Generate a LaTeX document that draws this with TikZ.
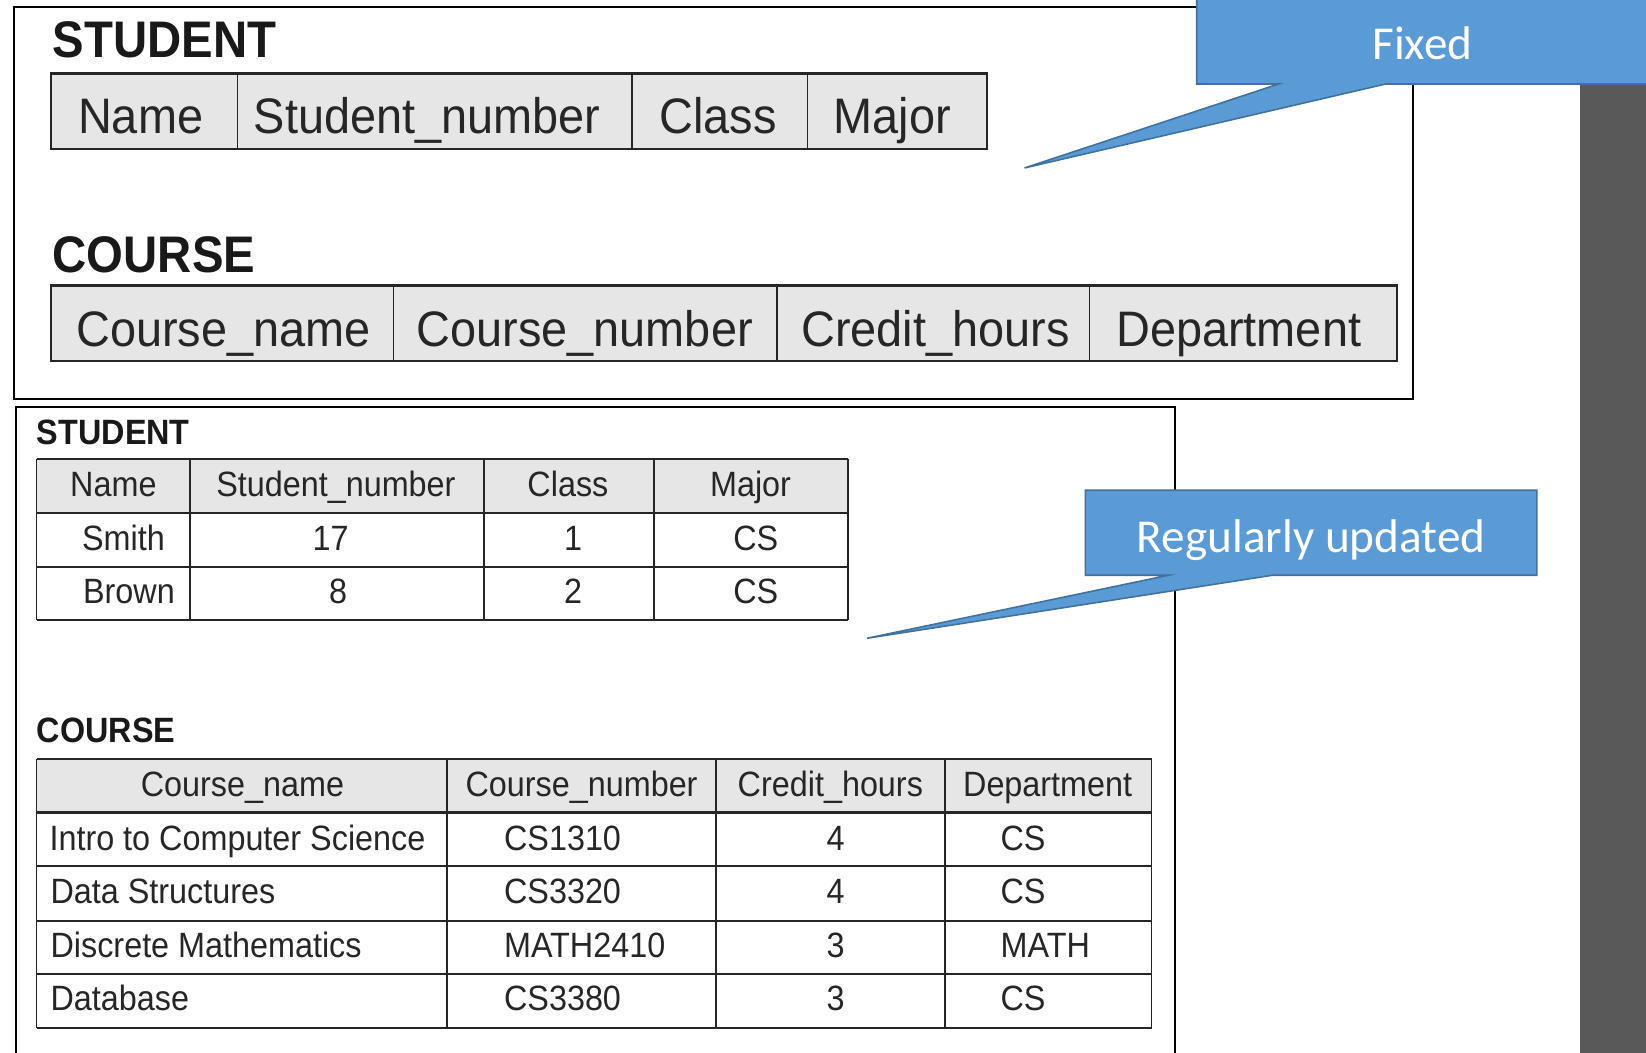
\documentclass[tikz,border=0pt]{standalone}
\usepackage{fontspec}
\setmainfont{Liberation Sans}
\newfontfamily\tabfont[FakeStretch=0.92]{Liberation Sans}
\newfontfamily\bigfont[FakeStretch=0.94]{Liberation Sans}
\newfontfamily\ttlfont[FakeStretch=0.92]{Liberation Sans}
\newfontfamily\callfont{Carlito}
\definecolor{hdr}{HTML}{E6E6E6}
\definecolor{cfill}{HTML}{5B9BD5}
\definecolor{cline}{HTML}{41719C}
\definecolor{sidebar}{HTML}{595959}
\definecolor{tline}{HTML}{262626}
\begin{document}
\begin{tikzpicture}[x=1pt,y=-1pt,
  bigtxt/.style={anchor=base,inner sep=0pt,font=\bigfont\fontsize{47.5}{48}\selectfont,text=black!85},
  smtxt/.style={anchor=base,inner sep=0pt,font=\tabfont\fontsize{33.5}{34}\selectfont,text=black!85},
  smleft/.style={smtxt,anchor=base west},
  bigttl/.style={anchor=base west,inner sep=0pt,font=\ttlfont\bfseries\fontsize{49}{49}\selectfont,text=black!90},
  smttl/.style={anchor=base west,inner sep=0pt,font=\ttlfont\bfseries\fontsize{33.5}{34}\selectfont,text=black!90},
  calltxt/.style={anchor=base,inner sep=0pt,font=\callfont\fontsize{45}{45}\selectfont,text=white},
  callout/.style={fill=cfill,draw=cline,line width=1.5pt,line join=miter},
  frame/.style={draw=black,line width=2pt},
  hline/.style={draw=tline,line width=2pt},
  vline/.style={draw=tline,line width=1.4pt},
  hdrcell/.style={fill=hdr}]
\useasboundingbox (0,0) rectangle (1568,1003);
\clip (0,0) rectangle (1568,1003);
\fill[white] (0,0) rectangle (1568,1003);
% side bar
\fill[sidebar] (1505,0) rectangle (1568,1003);

% ===== upper block =====
\draw[frame] (13,7) rectangle (1346,380);
\node[bigttl] (t1) at (50,55) {STUDENT};
\fill[hdrcell] (49,70) rectangle (940,142);
\draw[hline] (49,70) rectangle (940,142);
\foreach \x in {226,602,769} \draw[vline] (\x,70) -- (\x,142);
\node[bigtxt] (s1) at (134,127) {Name};
\node[bigtxt] (s2) at (407,127) {Student\_number};
\node[bigtxt] (s3) at (684,127) {Class};
\node[bigtxt] (s4) at (850,127) {Major};

\node[bigttl] (t2) at (50,260) {COURSE};
\fill[hdrcell] (49,272) rectangle (1331,344);
\draw[hline] (49,272) rectangle (1331,344);
\foreach \x in {375,740,1038} \draw[vline] (\x,272) -- (\x,344);
\node[bigtxt] (c1) at (213,330) {Course\_name};
\node[bigtxt] (c2) at (557,330) {Course\_number};
\node[bigtxt] (c3) at (891,330) {Credit\_hours};
\node[bigtxt] (c4) at (1180,330) {Department};

% ===== lower block =====
\draw[frame] (15,1010) -- (15,388) -- (1119,388) -- (1119,1010);
\node[smttl] (t3) at (35,423) {STUDENT};
\fill[hdrcell] (35,437) rectangle (808,489);
\foreach \y in {437,489,540,591} \draw[hline] (35,\y) -- (808,\y);
\foreach \x in {35,181,461,623,808} \draw[vline] (\x,437) -- (\x,591);
\node[smtxt] (h1) at (108,473) {Name};
\node[smtxt] (h2) at (320,473) {Student\_number};
\node[smtxt] (h3) at (541,473) {Class};
\node[smtxt] (h4) at (715,473) {Major};
\node[smleft] (r11) at (78,524) {Smith};
\node[smtxt] (r12) at (315,524) {17};
\node[smtxt] (r13) at (546,524) {1};
\node[smtxt] (r14) at (720,524) {CS};
\node[smleft] (r21) at (79,575) {Brown};
\node[smtxt] (r22) at (322,575) {8};
\node[smtxt] (r23) at (546,575) {2};
\node[smtxt] (r24) at (720,575) {CS};

\node[smttl] (t4) at (35,707) {COURSE};
\fill[hdrcell] (35,723) rectangle (1097,774);
\foreach \y in {723,774,825,877,928,979} \draw[hline] (35,\y) -- (1097,\y);
\foreach \x in {35,426,682,900,1097} \draw[vline] (\x,723) -- (\x,979);
\node[smtxt] (k1) at (231,759) {Course\_name};
\node[smtxt] (k2) at (554,759) {Course\_number};
\node[smtxt] (k3) at (791,759) {Credit\_hours};
\node[smtxt] (k4) at (998,759) {Department};
\node[smleft] (a1) at (47,810) {Intro to Computer Science};
\node[smleft] (a2) at (480,810) {CS1310};
\node[smtxt]  (a3) at (796,810) {4};
\node[smleft] (a4) at (953,810) {CS};
\node[smleft] (b1) at (48,861) {Data Structures};
\node[smleft] (b2) at (480,861) {CS3320};
\node[smtxt]  (b3) at (796,861) {4};
\node[smleft] (b4) at (953,861) {CS};
\node[smleft] (d1) at (48,912) {Discrete Mathematics};
\node[smleft] (d2) at (480,912) {MATH2410};
\node[smtxt]  (d3) at (796,912) {3};
\node[smleft] (d4) at (953,912) {MATH};
\node[smleft] (e1) at (48,963) {Database};
\node[smleft] (e2) at (480,963) {CS3380};
\node[smtxt]  (e3) at (796,963) {3};
\node[smleft] (e4) at (953,963) {CS};

% ===== callouts =====
\coordinate (fixtip) at (976,160);
\draw[callout] (1140,-5) -- (1140,80) -- (1218,80) -- (fixtip) -- (1320,80) -- (1580,80) -- (1580,-5) -- cycle;
\node[calltxt] (fixed) at (1355,57) {Fixed};

\coordinate (regtip) at (826,608);
\draw[callout] (1034,467) -- (1034,548) -- (1113,548) -- (regtip) -- (1212,548) -- (1464,548) -- (1464,467) -- cycle;
\node[calltxt] (reg) at (1249,526) {Regularly updated};
\end{tikzpicture}
\end{document}
